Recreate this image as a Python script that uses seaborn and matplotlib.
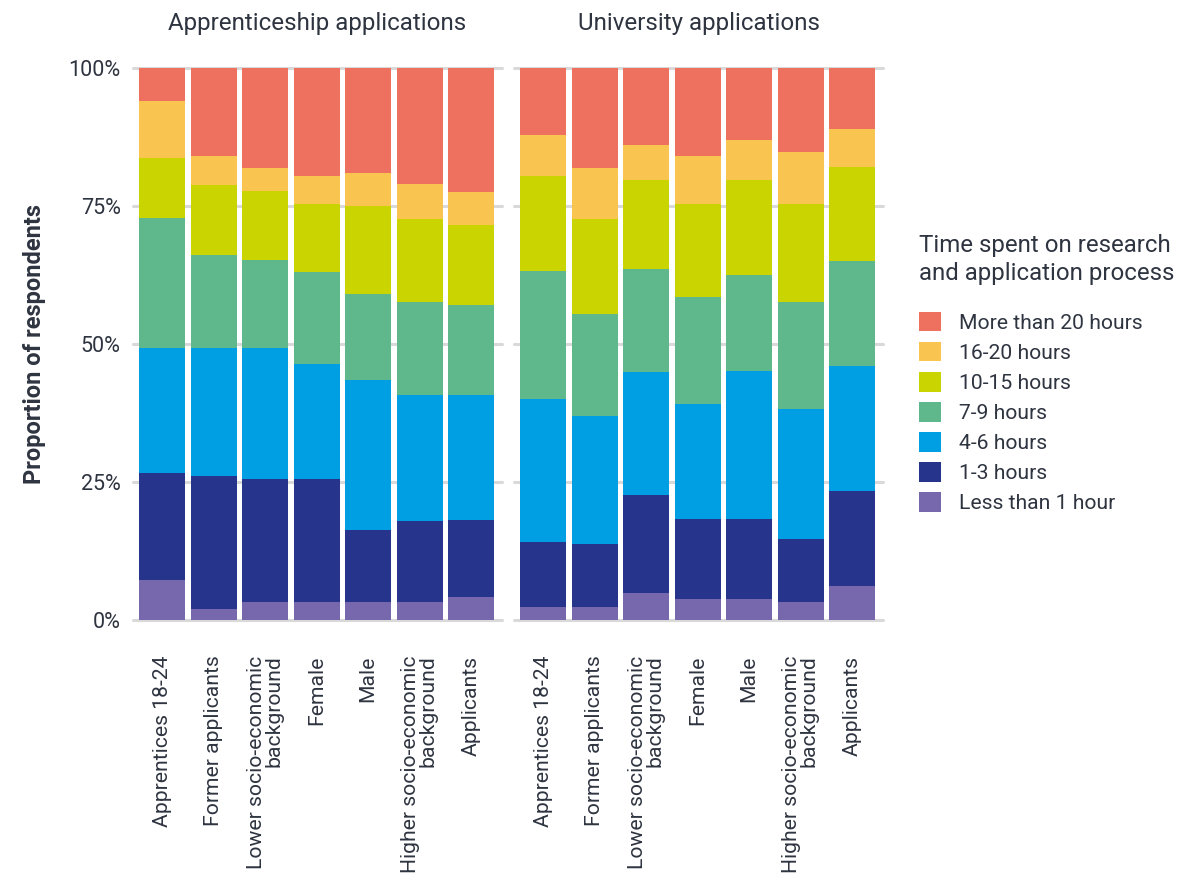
import matplotlib
matplotlib.use("Agg")
import matplotlib.pyplot as plt
import matplotlib.patches as mpatches
import seaborn as sns
import pandas as pd
import numpy as np

groups = ["Apprentices 18-24", "Former applicants", "Lower socio-economic\nbackground",
          "Female", "Male", "Higher socio-economic\nbackground", "Applicants"]
panels = ["Apprenticeship applications", "University applications"]
levels = ["Less than 1 hour", "1-3 hours", "4-6 hours", "7-9 hours",
          "10-15 hours", "16-20 hours", "More than 20 hours"]

# values (%) per level, bottom to top, for each group
appr_less1 = [7.2, 1.9, 3.1, 3.1, 3.1, 3.1, 4.0]
appr_1_3 = [19.4, 24.1, 22.4, 22.4, 13.1, 14.7, 14.0]
appr_4_6 = [22.7, 23.3, 23.8, 20.9, 27.2, 22.9, 22.7]
appr_7_9 = [23.5, 16.8, 15.9, 16.7, 15.6, 16.9, 16.4]
appr_10_15 = [10.9, 12.7, 12.5, 12.3, 15.9, 15.1, 14.5]
appr_16_20 = [10.4, 5.3, 4.2, 5.1, 6.1, 6.3, 6.0]
appr_20plus = [5.9, 15.9, 18.1, 19.5, 19.0, 21.0, 22.4]

uni_less1 = [2.2, 2.2, 4.8, 3.7, 3.7, 3.1, 6.0]
uni_1_3 = [11.8, 11.5, 17.8, 14.5, 14.5, 11.5, 17.3]
uni_4_6 = [26.0, 23.2, 22.3, 20.9, 26.9, 23.6, 22.7]
uni_7_9 = [23.2, 18.5, 18.7, 19.4, 17.4, 19.4, 19.0]
uni_10_15 = [17.3, 17.3, 16.1, 16.9, 17.2, 17.8, 17.1]
uni_16_20 = [7.4, 9.2, 6.4, 8.7, 7.3, 9.3, 6.9]
uni_20plus = [12.1, 18.1, 13.9, 15.9, 13.0, 15.3, 11.0]

colors = ["#7768AE", "#27348B", "#009FE3", "#5FB88B", "#C9D400", "#FAC450", "#EE705E"]

rows = []
for panel, series in zip(panels, [
        [appr_less1, appr_1_3, appr_4_6, appr_7_9, appr_10_15, appr_16_20, appr_20plus],
        [uni_less1, uni_1_3, uni_4_6, uni_7_9, uni_10_15, uni_16_20, uni_20plus]]):
    for lvl, vals in zip(levels, series):
        for g, v in zip(groups, vals):
            rows.append({"panel": panel, "group": g, "level": lvl, "value": v})
df = pd.DataFrame(rows)
df["level"] = pd.Categorical(df["level"], categories=levels, ordered=True)
df = df.sort_values(["panel", "group", "level"])
tot = df.groupby(["panel", "group"])["value"].transform("sum")
df["share"] = df["value"] / tot * 100
df["cum"] = df.groupby(["panel", "group"])["share"].cumsum()

sns.set_theme(style="white")
plt.rcParams["font.family"] = ["Roboto", "DejaVu Sans"]
txt = "#2E3440"

W, H = 1204, 875
fig = plt.figure(figsize=(W / 100, H / 100), dpi=100)
ax_boxes = [(133, 502), (514, 883)]
top_px, bot_px = 68, 619.5
axes = []
for (l, r), panel in zip(ax_boxes, panels):
    ax = fig.add_axes([l / W, 1 - bot_px / H, (r - l) / W, (bot_px - top_px) / H])
    sub = df[df["panel"] == panel]
    for lvl, col in zip(levels[::-1], colors[::-1]):
        d = sub[sub["level"] == lvl]
        sns.barplot(data=d, x="group", y="cum", order=groups, color=col,
                    saturation=1, width=0.893, errorbar=None, ax=ax, zorder=3,
                    linewidth=0)
    ax.set_xlim(-0.565, 6.6)
    ax.set_ylim(0, 100)
    ax.set_yticks([0, 25, 50, 75, 100])
    ax.yaxis.grid(True, color="#D9D9D9", linewidth=2.2, zorder=0)
    ax.xaxis.grid(False)
    for s in ax.spines.values():
        s.set_visible(False)
    ax.set_xlabel("")
    ax.set_ylabel("")
    ax.tick_params(axis="both", length=0, colors=txt)
    ax.tick_params(axis="x", pad=26, labelsize=15.2)
    ax.tick_params(axis="y", pad=9, labelsize=15.5)
    for lab in ax.get_xticklabels():
        lab.set_rotation(90)
        lab.set_ha("center")
        lab.set_va("top")
        lab.set_multialignment("right")
        lab.set_linespacing(0.9)
    ax.set_title(panel, fontsize=17.4, color=txt, pad=27)
    axes.append(ax)

axes[0].set_yticklabels(["0%", "25%", "50%", "75%", "100%"])
axes[1].set_yticklabels([])
for g in axes[0].get_ygridlines() + axes[1].get_ygridlines():
    g.set_clip_on(False)
axes[0].set_ylabel("Proportion of respondents", fontsize=17, fontweight="bold",
                   color=txt, labelpad=16)

handles = [mpatches.Patch(facecolor=c, edgecolor="none", label=l)
           for l, c in zip(levels[::-1], colors[::-1])]
leg = fig.legend(handles=handles, loc="upper left", bbox_to_anchor=(919 / W, 1 - 234 / H),
                 frameon=False, fontsize=15.2, title="Time spent on research\nand application process",
                 title_fontsize=17.3, alignment="left", handlelength=1.05, handleheight=1.05,
                 handletextpad=0.85, labelspacing=0.43, labelcolor=txt, borderpad=0,
                 borderaxespad=0)
leg.get_title().set_color(txt)
leg.get_title().set_linespacing(1.3)
leg._legend_box.sep = 19

fig.savefig("out.png", dpi=100)
